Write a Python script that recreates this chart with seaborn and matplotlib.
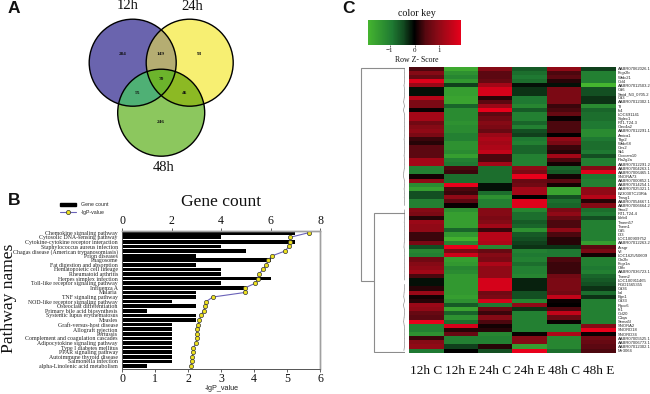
import numpy as np
import pandas as pd
import matplotlib
matplotlib.use("Agg")
import matplotlib.pyplot as plt
from matplotlib.colors import LinearSegmentedColormap
from matplotlib.patches import Circle, Patch
from matplotlib.lines import Line2D
import seaborn as sns

SERIF = "Liberation Serif"
SANS = "Liberation Sans"

# ---------- Panel A data ----------
venn_sets = ["12h", "24h", "48h"]
venn_counts = [284, 93, 246, 149, 55, 46, 70]

# ---------- Panel B data ----------
pathways = [
    "Chemokine signaling pathway", "Cytosolic DNA-sensing pathway",
    "Cytokine-cytokine receptor interaction", "Staphylococcus aureus infection",
    "Chagas disease (American trypanosomiasis)", "Prion diseases", "Phagosome",
    "Fat digestion and absorption", "Hematopoietic cell lineage",
    "Rheumatoid arthritis", "Herpes simplex infection",
    "Toll-like receptor signaling pathway", "Influenza A", "Malaria",
    "TNF signaling pathway", "NOD-like receptor signaling pathway",
    "Osteoclast differentiation", "Primary bile acid biosynthesis",
    "Systemic lupus erythematosus", "Measles", "Graft-versus-host disease",
    "Allograft rejection", "Pertussis", "Complement and coagulation cascades",
    "Adipocytokine signaling pathway", "Type I diabetes mellitus",
    "PPAR signaling pathway", "Autoimmune thyroid disease",
    "Salmonella infection", "alpha-Linolenic acid metabolism",
]
gene_count = [7, 4, 7, 4, 5, 3, 6, 3, 4, 4, 6, 4, 5, 3, 3, 2, 3, 1, 3, 3,
              2, 2, 2, 2, 2, 2, 2, 2, 2, 1]
lgp_value = [5.66, 5.10, 5.08, 5.06, 4.94, 4.56, 4.42, 4.37, 4.28, 4.14,
             4.11, 4.04, 3.73, 3.73, 2.75, 2.55, 2.52, 2.47, 2.39, 2.34,
             2.30, 2.26, 2.26, 2.26, 2.25, 2.16, 2.15, 2.13, 2.11, 2.08]

# ---------- Panel C data ----------
columns = ["12h C", "12h E", "24h C", "24h E", "48h C", "48h E"]
genes = [
    "AABR07062026.1", "Fcgr2b", "Wfdc21", "Ccl4", "AABR07012503.2", "Cd6",
    "Smid_N3_0705.2", "Cd3", "AABR07012302.1", "Tf", "Ifi4", "LOC691141",
    "Siglec1", "RT1-T24-3", "Clec4a2", "AABR07012291.1", "Amica1", "Tfgr2",
    "Wfdc68", "Ces2", "Sk1", "Cxxcam10", "Pla2g2a", "AABR07012291.2",
    "AABR07004263.1", "AABR07006465.1", "SNORA73", "AABR07000852.1",
    "AABR07014254.1", "AABR07025321.1", "B230307C23Rik", "Tmsg1",
    "AABR07054667.1", "AABR07006664.2", "Smo2", "RT1-T24-4", "Lilrb4",
    "Tmem57", "Tnem1", "Cd5", "Il33", "LOC100909752", "AABR07012263.2",
    "Acsgr", "Vil", "LOC1625/50609", "Cln2b", "Fcgr1a", "Ctfb",
    "AABR07036723.1", "Tnem2", "LOC100911465", "RGD1565355", "Cd36", "Ilal",
    "Bgn1", "Cd33", "Rgcc6", "Ift1", "Ccl20", "C1qa", "Sema5l", "SNORA2",
    "SNORD18", "SNORD34", "AABR07005525.1", "AABR07006773.1",
    "AABR07012302.1", "Mir3064",
]
c_12hC = [0.4, 0.9, 0.6, 1.8, 1.1, -0.1, -0.1, 1.4, 0.8, 0.8, 0.05, 1.2, 1.2, 0.7, 0.9, 1.0, 0.8,
          0.3, 0.2, 0.5, 0.5, 0.5, 1.2, 1.2, -1.0, -1.0, 0.1, 1.0, -1.2, -1.5, -0.5, -0.5, -1.0,
          -1.0, 0.9, 0.8, 0.2, 1.1, 1.0, 1.0, 0.3, 0.3, 0.8, -0.5, -1.1, -1.0, 0.7, 0.9, 1.0,
          1.2, 0.4, -0.1, -0.1, 0.2, 1.1, 0.1, 0.2, 1.1, 1.0, 0.6, 0.5, 1.9, -1.0, -1.0, -1.3,
          0.3, 0.9, 1.0, -0.9]
c_12hE = [-1.7, -1.3, -1.1, -1.4, -0.4, -1.5, -1.5, -1.6, -1.6, -0.7, -1.2, -1.2, -1.2, -1.3, -1.2, -1.2, -1.0,
          -1.0, -1.3, -1.3, -1.2, -1.5, -1.0, -0.9, 0.4, 0.3, -0.8, -0.8, 1.9, 0.4, 0.3, 1.0, 0.5,
          0.05, -1.3, -1.5, -1.5, -1.5, -1.5, -0.7, -1.4, -1.8, -1.1, 1.9, 0.8, 1.6, -1.5, -1.4, -1.1,
          -1.2, -1.4, -1.4, -1.4, -1.4, -1.4, -1.5, -1.3, -0.6, -1.6, -0.7, -1.3, -0.8, 1.7, 0.2, 0.6,
          -1.0, -1.0, -0.4, 0.0]
c_24hC = [0.9, 0.5, 0.5, 0.6, 1.2, 1.7, 1.7, 0.2, 0.5, 1.1, 1.9, 0.5, 0.7, 0.9, 0.8, 0.6, 1.1,
          1.3, 1.2, 1.3, 1.5, 0.4, 0.4, 1.2, -0.8, -0.8, -0.8, -0.8, -0.1, -0.1, -0.8, -1.3, -1.0,
          -1.0, 0.9, 0.9, 0.8, 0.9, 1.2, 0.3, 1.4, 1.4, 1.3, -1.1, 0.6, 0.9, 0.8, 1.3, 1.0,
          1.0, 1.0, 1.7, 1.7, 1.7, 0.7, 0.8, 1.7, -0.9, 0.6, 0.3, 0.9, 0.4, 0.1, 0.2, -1.1,
          -1.0, -1.0, 0.2, -0.5]
c_24hE = [-0.6, -0.8, -0.9, -0.8, -0.1, -0.3, -0.3, -0.9, -0.9, -1.1, -0.6, -1.0, -1.0, -0.7, -1.0, -0.5, -0.4,
          -0.9, -1.0, -0.7, -0.7, -1.0, -1.0, -1.0, 1.0, 0.8, 1.9, 0.6, 0.7, 1.2, 1.2, 0.0, 1.8,
          1.8, -1.1, -0.8, -0.8, -0.6, -0.7, -1.3, -0.6, -0.5, -0.4, -0.3, -1.0, -0.9, -1.0, -0.8, -1.0,
          -1.0, -1.1, -0.2, -0.2, -0.2, -0.5, -0.5, -1.1, 1.0, -0.3, -1.0, -1.0, -1.0, -1.0, -1.0, 0.05,
          0.9, 0.9, -1.5, 1.9]
c_48hC = [1.0, 0.4, 0.5, 0.2, -0.1, 0.8, 0.8, 0.8, 0.8, 0.3, 0.4, 0.6, 0.05, 0.4, 0.4, 0.4, 0.0,
          1.0, 0.8, 0.3, 0.2, 1.2, 0.4, 0.1, -0.7, -0.6, 0.1, 0.5, 0.1, -1.6, -1.6, -0.5, -0.8,
          -0.7, 0.8, 1.0, 0.6, 0.4, 0.4, 1.0, 0.4, 0.2, 0.2, -0.3, -0.9, -0.9, 0.4, 0.3, 0.3,
          0.3, 0.7, 0.8, 0.8, 0.8, 0.7, 1.5, 0.05, 0.0, 0.4, 1.5, 0.6, 0.05, -1.0, -1.0, 1.3,
          -1.1, -1.1, -1.1, -0.8]
c_48hE = [-0.4, -1.0, -1.0, -1.0, -1.9, -0.5, -0.5, -0.3, -0.3, -1.2, -0.7, -0.8, -0.8, -0.9, -0.9, -1.2, -1.2,
          -0.9, -0.8, -0.8, -0.9, -0.5, -1.0, -1.0, 0.9, 1.8, -0.9, -1.0, -1.0, 1.0, 1.0, 1.4, 0.2,
          0.9, -0.8, -0.9, -0.5, -1.0, -1.0, -1.0, -1.0, -1.0, -1.5, 0.5, 0.8, 0.1, -1.0, -1.0, -0.9,
          -1.0, -0.7, -0.6, -0.5, -0.3, -0.8, -0.3, -1.0, -1.0, -1.0, -1.0, -1.0, -1.0, 0.9, 1.9, 0.05,
          0.7, 0.6, 0.5, 0.4]
leaf_merge = [0.8, 0.4, 0.7, 0.4, 1.0, 0.5, 0.3, 0.8, 1.3, 0.6, 1.5, 0.5, 0.4, 0.6, 0.4, 0.7, 0.5,
              0.9, 0.5, 0.4, 0.6, 0.9, 0.4, 0.6, 0.7, 1.2, 1.4, 0.6, 0.5, 0.9, 0.5, 0.8, 0.4,
              0.6, 0.4, 0.7, 0.5, 0.8, 0.4, 0.6, 0.5, 0.4, 0.8, 1.0, 0.5, 0.6, 0.4, 0.7, 0.4,
              0.5, 0.6, 0.4, 0.4, 0.6, 0.9, 1.2, 0.5, 1.5, 0.7, 0.6, 0.9, 1.3, 0.8, 0.4, 0.6,
              0.5, 0.4, 0.6, 1.1]
dend_root_h, dend_sub_h = 44.0, 31.0
dend_top_row, dend_sub_row = 0.4, 51.7
dend_a_row, dend_b_row = 35.3, 68.8

W, H = 650, 394
sns.set_theme(style="white")
plt.rcParams["font.family"] = [SERIF, "DejaVu Serif"]
fig = plt.figure(figsize=(W / 100, H / 100), dpi=100, facecolor="white")


def px_axes(l, t, r, b, **kw):
    return fig.add_axes([l / W, 1 - b / H, (r - l) / W, (b - t) / H], **kw)


# Full-figure overlay in pixel units for panel letters and the Venn diagram
ov = px_axes(0, 0, W, H)
ov.set_xlim(0, W)
ov.set_ylim(H, 0)
ov.axis("off")
for s, x, y in [("A", 8, 8.5), ("B", 8, 200), ("C", 342, 8.5)]:
    ov.text(x, y, s, family=SANS, weight="bold", fontsize=12.5, va="center", ha="left", color="#111")

# ---------- Panel A ----------
R = 43.5
centers = {"12h": (132.7, 62.7), "24h": (189.7, 62.7), "48h": (161.2, 112.7)}
base_col = {"12h": "#6a64ae", "24h": "#f7ef72", "48h": "#8cc75e"}


def clip_disc(c1, c2, color, z):
    p = Circle(centers[c1], R, fc=color, ec="none", zorder=z)
    ov.add_patch(p)
    p.set_clip_path(Circle(centers[c2], R, transform=ov.transData))


for s in venn_sets:
    ov.add_patch(Circle(centers[s], R, fc=base_col[s], ec="none", zorder=2))
clip_disc("12h", "24h", "#b5ad72", 3)
clip_disc("12h", "48h", "#4fb075", 4)
clip_disc("24h", "48h", "#8cb924", 4)
th = np.linspace(0, 2 * np.pi, 1440)
poly = []
for a, b, c in [("12h", "24h", "48h"), ("24h", "48h", "12h"), ("48h", "12h", "24h")]:
    cx, cy = centers[a]
    pts = np.c_[cx + R * np.cos(th), cy + R * np.sin(th)]
    d1 = np.hypot(*(pts - np.array(centers[b])).T) <= R
    d2 = np.hypot(*(pts - np.array(centers[c])).T) <= R
    poly.append(pts[d1 & d2])
poly = np.vstack(poly)
g = poly.mean(axis=0)
poly = poly[np.argsort(np.arctan2(poly[:, 1] - g[1], poly[:, 0] - g[0]))]
ov.fill(poly[:, 0], poly[:, 1], color="#6cb42c", zorder=5, lw=0)
for s in venn_sets:
    ov.add_patch(Circle(centers[s], R, fc="none", ec="black", lw=1.0, zorder=6))

venn_pos = [(123, 53.5), (199, 53.5), (161, 122), (161, 53.5), (137.5, 92.5), (185, 92.5), (161.3, 79)]
for n, (x, y) in zip(venn_counts, venn_pos):
    ov.text(x, y, str(n), fontsize=3.8, weight="bold", ha="center", va="center", zorder=7, color="#111")
for s, (x, y) in zip(venn_sets, [(127.7, 5.5), (192.3, 6), (164, 167)]):
    ov.text(x, y, s, fontsize=10.5, ha="center", va="center", color="#111")

# ---------- Panel B ----------
ax_bar = px_axes(122, 230.7, 320, 369.3)
df_b = pd.DataFrame({"pathway": pathways, "count": gene_count, "lgp": lgp_value, "row": range(len(pathways))})
sns.barplot(data=df_b, x="count", y="pathway", ax=ax_bar, color="black", width=0.8, saturation=1,
            orient="y", edgecolor="black", linewidth=0)
ax_bar.set_xlim(0, 8)
ax_bar.set_ylim(29.72, -0.43)
ax_bar.set_xticks([0, 2, 4, 6, 8])
ax_bar.set_xlabel("")
ax_bar.set_ylabel("")
ax_bar.tick_params(axis="y", labelsize=4.2, length=0, pad=3, labelcolor="#222")

ax_line = ax_bar.twiny()
sns.lineplot(data=df_b, x="lgp", y="row", ax=ax_line, sort=False, orient="y", estimator=None,
             color="#6a62b8", lw=0.8, marker="o", markersize=3, markerfacecolor="#efe21e",
             markeredgecolor="#333", markeredgewidth=0.5)
ax_line.set_xlim(0, 6)
ax_line.set_ylim(29.72, -0.43)
ax_line.set_xticks(range(7))
ax_line.set_xlabel("")
ax_line.set_ylabel("")
ax_bar.xaxis.set_ticks_position("top")
ax_bar.xaxis.set_label_position("top")
ax_line.xaxis.set_ticks_position("bottom")
ax_line.xaxis.set_label_position("bottom")
for a in (ax_bar, ax_line):
    a.tick_params(axis="x", labelsize=8.6, length=2, width=0.6, color="#444", pad=1, labelcolor="#111")
    for sp in a.spines.values():
        sp.set_color("#a0a0a0")
        sp.set_linewidth(1.0)
    a.spines["left"].set_color("#555")
    a.spines["left"].set_linewidth(0.6)
    a.spines["bottom"].set_color("#555")
    a.spines["bottom"].set_linewidth(0.6)

ov.text(221, 201.5, "Gene count", fontsize=12.6, ha="center", va="center", color="#111")
ov.text(221.5, 389, "-lgP_value", family=SANS, fontsize=5.2, ha="center", va="center", color="#222")
ov.text(9, 298, "Pathway names", fontsize=12.6, rotation=90, ha="center", va="center", color="#111")
leg_handles = [Patch(fc="black", ec="black"),
               Line2D([], [], color="#6a62b8", lw=0.8, marker="o", markersize=3,
                      mfc="#efe21e", mec="#333", mew=0.5)]
ov.legend(leg_handles, ["Gene count", "-lgP-value"], loc="upper left",
          bbox_to_anchor=(59.5 / W, 1 - 202.5 / H), frameon=False,
          prop={"family": SANS, "size": 3.8}, handlelength=3.2, handleheight=0.6,
          handletextpad=0.8, labelspacing=0.5, borderpad=0, borderaxespad=0)

# ---------- Panel C ----------
cmap = LinearSegmentedColormap.from_list(
    "gbr", [(0.0, "#45b52f"), (0.26, "#1f7a32"), (0.38, "#124a20"), (0.5, "#000000"),
            (0.62, "#580810"), (0.75, "#8a0a16"), (1.0, "#e8001b")])
df_c = pd.DataFrame({"12h C": c_12hC, "12h E": c_12hE, "24h C": c_24hC,
                     "24h E": c_24hE, "48h C": c_48hC, "48h E": c_48hE}, index=range(len(genes)))
df_c = df_c[columns]
ax_h = px_axes(409.3, 66.7, 615.5, 352.7)
cax = px_axes(367.7, 20, 461.3, 45)
sns.heatmap(df_c, ax=ax_h, cmap=cmap, vmin=-1.9, vmax=1.9, cbar_ax=cax,
            cbar_kws={"orientation": "horizontal"}, xticklabels=columns, yticklabels=genes)
ax_h.yaxis.tick_right()
ax_h.tick_params(axis="y", labelsize=3.0, length=0, pad=1.5, labelrotation=0, labelcolor="#222")
for t in ax_h.get_yticklabels():
    t.set_family(SANS)
ax_h.tick_params(axis="x", labelsize=9.5, length=0, pad=9, labelrotation=0, labelcolor="#111")
ax_h.set_xlabel("")
ax_h.set_ylabel("")

cb = ax_h.collections[0].colorbar
cb.set_ticks([-1, 0, 1])
cb.outline.set_visible(False)
cax.tick_params(axis="x", labelsize=5, length=1.5, width=0.5, pad=0.5, color="#333", labelcolor="#111", bottom=True)
ov.text(416.5, 13.5, "color key", fontsize=7.2, ha="center", va="center", color="#111")
ov.text(417, 59.5, "Row Z- Score", fontsize=5.6, ha="center", va="center", color="#111")

# Dendrogram, sharing the heatmap's row scale
ax_d = px_axes(360, 66.7, 405, 352.7)
ax_d.set_xlim(45, 0)
ax_d.set_ylim(len(genes), 0)
ax_d.axis("off")
grey = "#8c8c8c"
ax_d.plot([0, dend_root_h, dend_root_h, dend_sub_h],
          [dend_top_row, dend_top_row, dend_sub_row, dend_sub_row], color=grey, lw=0.8, solid_joinstyle="miter")
ax_d.plot([0, dend_sub_h, dend_sub_h, 0],
          [dend_a_row, dend_a_row, dend_b_row, dend_b_row], color=grey, lw=0.8, solid_joinstyle="miter")
for i, m in enumerate(leaf_merge):
    if i + 1 < len(leaf_merge) and i != 33:
        ax_d.plot([m, leaf_merge[i + 1]], [i + 0.5, i + 1.5], color="#777", lw=0.4)

fig.savefig("out.png", dpi=100, facecolor="white")
